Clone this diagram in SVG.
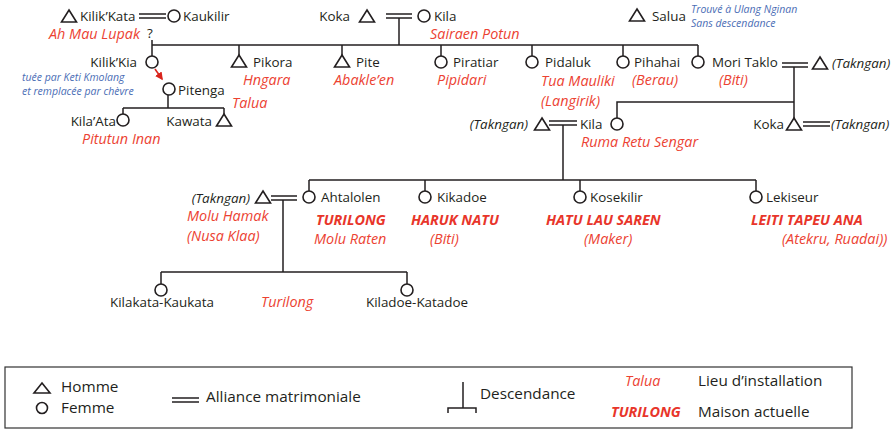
<svg xmlns="http://www.w3.org/2000/svg" xmlns:xlink="http://www.w3.org/1999/xlink" width="895" height="429" viewBox="0 0 895 429">
<style>
text{font-family:"Open Sans","Noto Sans",sans-serif;font-size:13.4px;fill:#231f20}
.r{fill:#ec4232;font-style:italic;font-size:14.4px}
.rb{fill:#e8352a;font-style:italic;font-weight:bold;font-size:14.4px}
.bl{fill:#4a6db5;font-style:italic;font-size:10.5px}
.it{font-style:italic}
.ln{stroke:#231f20;stroke-width:1.5;fill:none}
.sym{stroke:#231f20;stroke-width:1.6;fill:#fff}
.lg{font-size:15.3px}
</style>
<defs>
<path id="tri" class="sym" d="M0,-6 L7.5,6 L-7.5,6 Z"/>
<circle id="cir" class="sym" r="6"/>
<marker id="ah" viewBox="0 0 10 10" refX="8" refY="5" markerWidth="5" markerHeight="5" orient="auto"><path d="M0,0 L10,5 L0,10 Z" fill="#d9241c"/></marker>
</defs>
<rect width="895" height="429" fill="#fff"/>
<g id="connectors" class="ln">
<path d="M139,14 H166 M139,18 H166"/>
<path d="M152,40 V45 M152,45 H698"/>
<path d="M152,45 V56 M239,45 V55 M342,45 V55 M441,45 V56 M532,45 V56 M623,45 V56 M698,45 V56"/>
<path d="M386,14 H412 M386,18 H412 M399,18 V45"/>
<path d="M782,63 H808 M782,67 H808 M794,67 V118 M794,102 H617 V118"/>
<path d="M803,122 H830 M803,126 H830"/>
<path d="M549,121 H577 M549,125 H577 M563,125 V180"/>
<path d="M309,180 H756 M309,180 V191 M425,180 V191 M580,180 V191 M756,180 V191"/>
<path d="M271,196 H297 M271,200 H297 M283,200 V272 M161,272 H407 M161,272 V284 M407,272 V284"/>
<path d="M168,95 V108 M123,108 H224 M123,108 V114 M224,108 V114"/>
<line x1="155" y1="69" x2="162" y2="79" stroke="#d9241c" stroke-width="1.6" marker-end="url(#ah)"/>
</g>
<g id="n-kilikkata"><use xlink:href="#tri" x="69" y="16"/><text x="80" y="21">Kilik’Kata</text><text class="r" x="140" y="38.5" text-anchor="end">Ah Mau Lupak</text><text x="147" y="38" font-size="14">?</text></g>
<g id="n-kaukilir"><use xlink:href="#cir" x="174" y="16"/><text x="183" y="21">Kaukilir</text></g>
<g id="n-koka"><text x="350" y="21" text-anchor="end">Koka</text><use xlink:href="#tri" x="367" y="16"/></g>
<g id="n-kila1"><use xlink:href="#cir" x="424" y="16"/><text x="434" y="21">Kila</text><text class="r" x="430" y="38.5">Sairaen Potun</text></g>
<g id="n-salua"><use xlink:href="#tri" x="637" y="15"/><text x="652" y="21">Salua</text><text class="bl" x="691" y="13">Trouvé à Ulang Nginan</text><text class="bl" x="691" y="27">Sans descendance</text></g>
<g id="n-kilikkia"><use xlink:href="#cir" x="152" y="62"/><text x="137" y="67" text-anchor="end">Kilik’Kia</text><text class="bl" x="22" y="81">tuée par Keti Kmolang</text><text class="bl" x="22" y="95">et remplacée par chèvre</text></g>
<g id="n-pikora"><use xlink:href="#tri" x="239" y="61"/><text x="253" y="67">Pikora</text><text class="r" x="243" y="85">Hngara</text></g>
<g id="n-pite"><use xlink:href="#tri" x="342" y="61"/><text x="356" y="67">Pite</text><text class="r" x="334" y="85">Abakle’en</text></g>
<g id="n-piratiar"><use xlink:href="#cir" x="441" y="62"/><text x="453" y="67">Piratiar</text><text class="r" x="437" y="85">Pipidari</text></g>
<g id="n-pidaluk"><use xlink:href="#cir" x="532" y="62"/><text x="545" y="67">Pidaluk</text><text class="r" x="541" y="86">Tua Mauliki</text><text class="r" x="541" y="106">(Langirik)</text></g>
<g id="n-pihahai"><use xlink:href="#cir" x="623" y="62"/><text x="634" y="67">Pihahai</text><text class="r" x="632" y="85">(Berau)</text></g>
<g id="n-moritaklo"><use xlink:href="#cir" x="698" y="62"/><text x="712" y="67">Mori Taklo</text><text class="r" x="719" y="85">(Biti)</text></g>
<g id="n-takngan1"><use xlink:href="#tri" x="820" y="63"/><text class="it" x="832" y="68">(Takngan)</text></g>
<g id="n-pitenga"><use xlink:href="#cir" x="169" y="89"/><text x="178" y="95">Pitenga</text><text class="r" x="232" y="108">Talua</text></g>
<g id="n-kilaata"><use xlink:href="#cir" x="123" y="120"/><text x="116" y="126" text-anchor="end">Kila’Ata</text><text class="r" x="82" y="144">Pitutun Inan</text></g>
<g id="n-kawata"><use xlink:href="#tri" x="224" y="120"/><text x="212" y="126" text-anchor="end">Kawata</text></g>
<g id="n-takngan2"><text class="it" x="528" y="129" text-anchor="end">(Takngan)</text><use xlink:href="#tri" x="542" y="124"/></g>
<g id="n-kila2"><text x="580" y="129">Kila</text><use xlink:href="#cir" x="617" y="124"/><text class="r" x="581" y="146.5">Ruma Retu Sengar</text></g>
<g id="n-koka2"><text x="784" y="129" text-anchor="end">Koka</text><use xlink:href="#tri" x="794" y="124"/></g>
<g id="n-takngan3"><text class="it" x="831" y="129">(Takngan)</text></g>
<g id="n-takngan4"><text class="it" x="250" y="203" text-anchor="end">(Takngan)</text><use xlink:href="#tri" x="263" y="197"/><text class="r" x="187" y="221">Molu Hamak</text><text class="r" x="187" y="241">(Nusa Klaa)</text></g>
<g id="n-ahtalolen"><use xlink:href="#cir" x="309" y="197"/><text x="321" y="202">Ahtalolen</text><text class="rb" x="316" y="225">TURILONG</text><text class="r" x="314" y="244">Molu Raten</text></g>
<g id="n-kikadoe"><use xlink:href="#cir" x="425" y="197"/><text x="437" y="202">Kikadoe</text><text class="rb" x="411" y="225">HARUK NATU</text><text class="r" x="430" y="244">(Biti)</text></g>
<g id="n-kosekilir"><use xlink:href="#cir" x="580" y="197"/><text x="590" y="202">Kosekilir</text><text class="rb" x="546" y="225">HATU LAU SAREN</text><text class="r" x="584" y="244">(Maker)</text></g>
<g id="n-lekiseur"><use xlink:href="#cir" x="756" y="197"/><text x="766" y="202">Lekiseur</text><text class="rb" x="751" y="225">LEITI TAPEU ANA</text><text class="r" x="782" y="244">(Atekru, Ruadai))</text></g>
<g id="n-kilakata"><use xlink:href="#cir" x="161" y="290"/><text x="162" y="307" text-anchor="middle">Kilakata-Kaukata</text></g>
<g id="n-turilong"><text class="r" x="261" y="307">Turilong</text></g>
<g id="n-kiladoe"><use xlink:href="#cir" x="407" y="290"/><text x="417" y="307" text-anchor="middle">Kiladoe-Katadoe</text></g>
<g id="legend">
<rect x="5" y="367" width="847" height="61" fill="none" stroke="#333" stroke-width="1.2"/>
<path class="sym" d="M42,383 L50,393 L34,393 Z"/>
<text class="lg" x="61" y="392">Homme</text>
<circle class="sym" cx="42" cy="408" r="5.5"/>
<text class="lg" x="61" y="413">Femme</text>
<path class="ln" d="M172,398 H199 M172,402 H199"/>
<text class="lg" x="206" y="402">Alliance matrimoniale</text>
<path class="ln" d="M463,382 V408 M448,413 V408 H476 V413"/>
<text class="lg" x="480" y="399">Descendance</text>
<text class="r" x="625" y="386">Talua</text>
<text class="lg" x="698" y="386">Lieu d’installation</text>
<text class="rb" x="611" y="417">TURILONG</text>
<text class="lg" x="698" y="417">Maison actuelle</text>
</g>
</svg>
